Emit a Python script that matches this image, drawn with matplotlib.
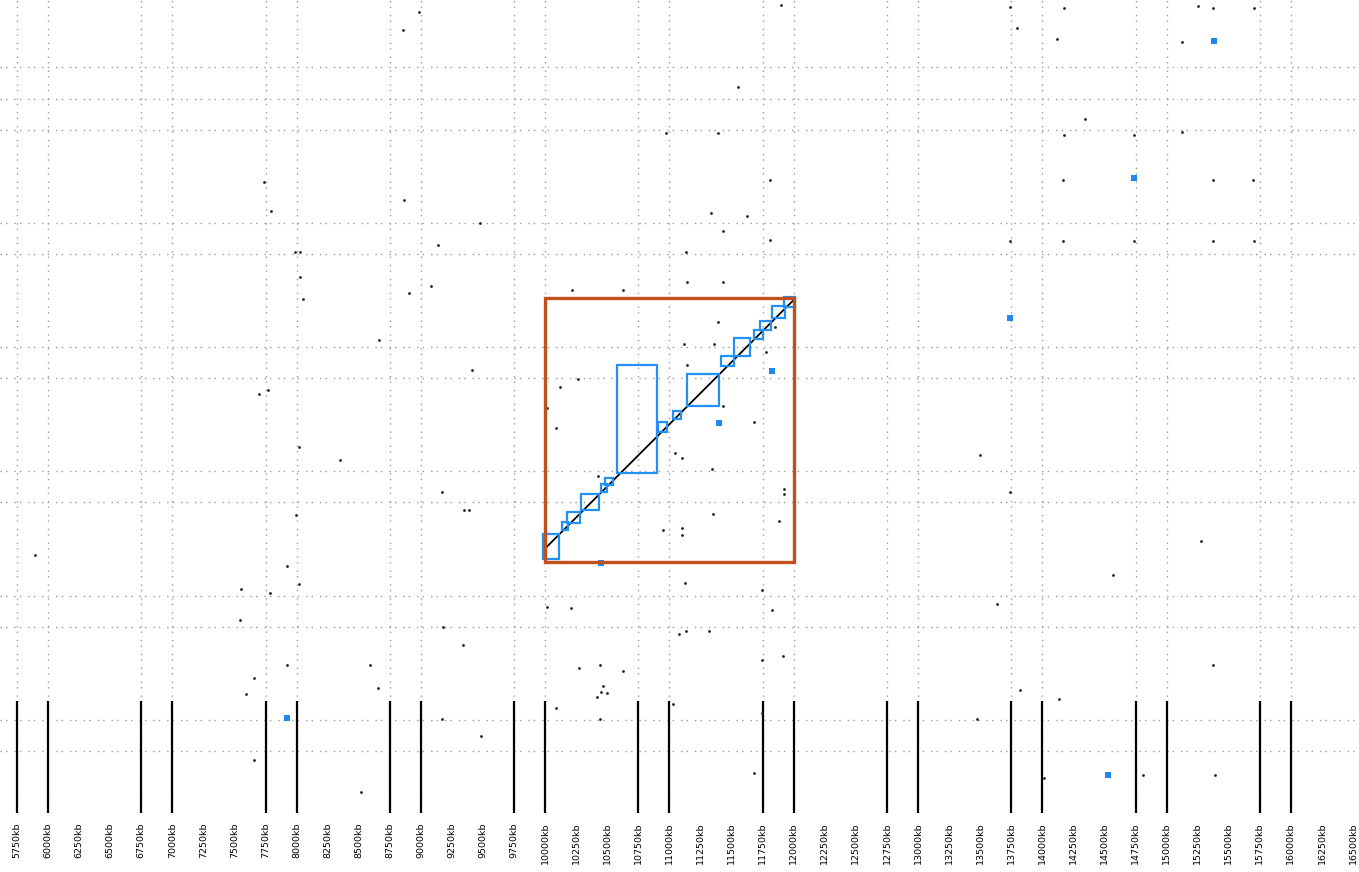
import matplotlib
matplotlib.use("Agg")
import matplotlib.pyplot as plt
import matplotlib.transforms as mtransforms

# bin coordinates along both axes (kb)
x_ticks = [5750 + 250 * i for i in range(44)]
x_tick_labels = [f"{v}kb" for v in x_ticks]
x_lines = [v for i, v in enumerate(x_ticks) if i % 4 in (0, 1)]
y_lines = [11250, 11000, 10750, 10000, 9750, 9000, 8750, 8000, 7750, 7000, 6750, 6000, 5750]

# selected region and called domains
region = (10000, 12000, 7270, 9395)
diag_x = [10000, 12000]
diag_y = [7380, 9380]
domains = [
    (9985, 10110, 7295, 7500),
    (10135, 10180, 7530, 7590),
    (10175, 10280, 7585, 7670),
    (10286, 10433, 7689, 7820),
    (10449, 10500, 7834, 7898),
    (10484, 10548, 7888, 7947),
    (10575, 10902, 7989, 8854),
    (10908, 10978, 8319, 8400),
    (11026, 11090, 8419, 8488),
    (11139, 11396, 8526, 8781),
    (11412, 11519, 8848, 8928),
    (11519, 11648, 8928, 9071),
    (11680, 11750, 9068, 9138),
    (11728, 11815, 9138, 9212),
    (11825, 11930, 9237, 9331),
    (11922, 12010, 9320, 9401),
]

# contact points
hit_x = [8984, 8856, 11897, 13740, 13796, 14174, 14118, 15253, 15373, 15703,
         15124, 11551, 14343, 14174, 14738, 15124, 10972, 11390, 7737, 11809,
         14166, 15373, 15695, 7794, 8864, 9475, 11334, 11624, 11431, 9137,
         11809, 13740, 14166, 14738, 15373, 15703, 7987, 8027, 11133, 8027,
         8051, 8904, 9081, 10216, 10626, 11141, 11431, 8663, 11390, 11117,
         11358, 11141, 11777, 11849, 9411, 10264, 10119, 7697, 7769, 10014,
         10087, 11431, 11680, 8019, 8349, 11044, 11101, 11342, 13498, 10425,
         9170, 13740, 11921, 11921, 9347, 9387, 7995, 11350, 10948, 11101,
         11101, 11881, 5895, 15277, 7922, 11744, 11125, 8019, 7552, 7786,
         10014, 10208, 11825, 13635, 14569, 7544, 9178, 11077, 11133, 11318,
         9338, 11913, 11744, 15373, 7922, 10272, 10441, 10626, 8590, 7657,
         10465, 10449, 10497, 10417, 7592, 8655, 13820, 14134, 10087, 11028,
         11744, 9170, 10441, 13474, 9483, 7657, 11680, 14810, 14013, 15389,
         8518]
hit_y = [11696, 11552, 11753, 11737, 11568, 11729, 11479, 11745, 11729, 11729,
         11455, 11093, 10835, 10707, 10707, 10731, 10723, 10723, 10329, 10345,
         10345, 10345, 10345, 10095, 10184, 9999, 10079, 10055, 9934, 9822,
         9862, 9854, 9854, 9854, 9854, 9854, 9765, 9765, 9765, 9564,
         9387, 9435, 9492, 9460, 9460, 9524, 9524, 9057, 9202, 9025,
         9025, 8856, 8961, 9162, 8816, 8743, 8679, 8623, 8655, 8510,
         8349, 8526, 8397, 8196, 8092, 8148, 8108, 8019, 8132, 7963,
         7834, 7834, 7858, 7818, 7689, 7689, 7649, 7657, 7528, 7544,
         7488, 7601, 7327, 7440, 7239, 7046, 7102, 7094, 7054, 7021,
         6909, 6901, 6885, 6933, 7166, 6804, 6748, 6692, 6716, 6716,
         6603, 6515, 6482, 6442, 6442, 6418, 6442, 6394, 6442, 6338,
         6273, 6225, 6217, 6185, 6209, 6257, 6241, 6169, 6096, 6128,
         6056, 6008, 6008, 6008, 5871, 5678, 5573, 5557, 5533, 5557,
         5420]

# highlighted points
hl_x = [15381, 14738, 13740, 11825, 11398, 10449, 7922, 14528]
hl_y = [11463, 10361, 9234, 8808, 8389, 7263, 6016, 5557]

fig = plt.figure(figsize=(13.59, 8.72), dpi=100)
ax = fig.add_axes([0, 59 / 872, 1, 813 / 872])
ax.set_xlim(5613, 16548)
ax.set_ylim(5251, 11793)

grid_kw = dict(color="#9a9a9a", linewidth=1.0, linestyle=(0, (1, 3, 1, 5)), zorder=1)
for v in x_lines:
    ax.axvline(v, **grid_kw)
for v in y_lines:
    ax.axhline(v, **grid_kw)

# long bars under the grouped bins
trans = mtransforms.blended_transform_factory(ax.transData, ax.transAxes)
ax.vlines(x_lines, 0, 112 / 813, transform=trans, color="black", linewidth=1.6, zorder=2)

ax.scatter(hl_x, hl_y, s=14, marker="s", color="#1e88f0", linewidths=0, zorder=3)
ax.scatter(hit_x, hit_y, s=4, marker="o", color="#202020", linewidths=0, zorder=4)

ax.plot(diag_x, diag_y, color="black", linewidth=1.3, zorder=4)
for x0, x1, y0, y1 in domains:
    ax.add_patch(plt.Rectangle((x0, y0), x1 - x0, y1 - y0, fill=False,
                               edgecolor="#2290f5", linewidth=1.6, zorder=5))

rx0, rx1, ry0, ry1 = region
ax.add_patch(plt.Rectangle((rx0, ry0), rx1 - rx0, ry1 - ry0, fill=False,
                           edgecolor="#c1501c", linewidth=2.4, zorder=6))

ax.set_xticks(x_ticks, x_tick_labels, rotation=90, fontsize=6.8, va="top")
ax.tick_params(axis="x", length=0, pad=7)
ax.set_yticks([])
for s in ax.spines.values():
    s.set_visible(False)

fig.savefig("out.png", dpi=100)
